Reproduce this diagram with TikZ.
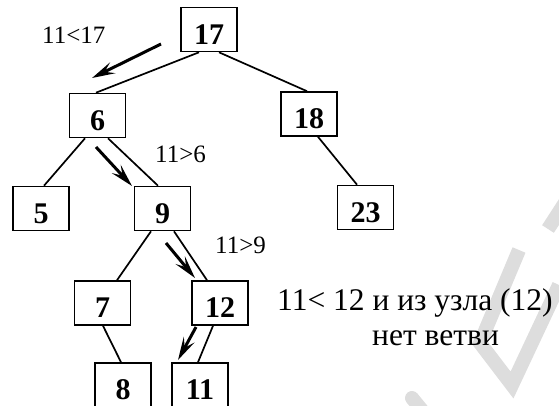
\documentclass[tikz,border=0pt]{standalone}
\usepackage{fontspec}
\setmainfont{Liberation Serif}
\usetikzlibrary{arrows.meta}
\definecolor{wmgray}{HTML}{DDDDDD}
\begin{document}
\begin{tikzpicture}[x=1pt,y=-1pt,
  keybox/.style={draw,line width=1.6pt,minimum width=56pt,minimum height=44pt,inner sep=0pt},
  keynum/.style={anchor=base,inner sep=0pt,text depth=0pt,font=\fontsize{30}{30}\selectfont\bfseries},
  edge/.style={line width=1.7pt},
  walk/.style={line width=3pt,-{Stealth[length=23pt,width=12pt,inset=9pt]}},
  cmp/.style={anchor=base west,inner sep=0pt,font=\fontsize{25}{25}\selectfont},
  note/.style={anchor=base west,inner sep=0pt,font=\fontsize{31.5}{31.5}\selectfont},
  wmstroke/.style={wmgray,line width=14pt}]
\useasboundingbox (0,0) rectangle (559,405);

% faint background lettering
\draw[wmstroke,line join=miter] (519,250) -- (480,343) -- (512,385) -- (559,285);
\draw[wmstroke] (548,229) -- (570,195);
\draw[wmstroke,line cap=round] (412,398) -- (430,420);

% tree nodes: frames and keys
\foreach \name/\px/\py/\key in {n17/209/29.5/17, n6/97.5/115.5/6, n18/309/114/18,
    n5/41/208.5/5, n9/162.5/208.5/9, n23/365.5/207.5/23, n7/102.5/303/7,
    n12/220/303/12, n8/123/385/8, n11/200/385/11}{
  \node[keybox] (\name) at (\px,\py) {};
  \node[keynum] (k\name) at ([yshift=-14.5pt]\name.center) {\key};
}

% tree edges
\draw[edge] ([xshift=-10pt]n17.south) -- ([xshift=-1.5pt]n6.north);
\draw[edge] ([xshift=10pt]n17.south) -- ([xshift=-2pt]n18.north);
\draw[edge] ([xshift=-12.5pt]n6.south) -- ([xshift=3pt]n5.north);
\draw[edge] ([xshift=10.5pt]n6.south) -- ([xshift=-4.5pt]n9.north);
\draw[edge] ([xshift=-11.5pt]n9.south) -- ([xshift=14.5pt]n7.north);
\draw[edge] ([xshift=11.5pt]n9.south) -- ([xshift=-13pt]n12.north);
\draw[edge] ([xshift=-7pt]n12.south) -- ([xshift=-2pt]n11.north);
\draw[edge] ([xshift=0.5pt]n7.south) -- ([xshift=-2pt]n8.north);
\draw[edge] ([xshift=9pt]n18.south) -- ([xshift=-8.5pt]n23.north);

% search path
\coordinate (s1) at (161,44);  \coordinate (e1) at (92,78);
\coordinate (s2) at (96,147);  \coordinate (e2) at (132,186);
\coordinate (s3) at (166,243); \coordinate (e3) at (195,278);
\coordinate (s4) at (196,327); \coordinate (e4) at (178,360);
\draw[walk] (s1) -- (e1);
\draw[walk] (s2) -- (e2);
\draw[walk] (s3) -- (e3);
\draw[walk] (s4) -- (e4);

% comparisons
\node[cmp] (c1) at (42,43) {11<17};
\node[cmp] (c2) at (155,162) {11>6};
\node[cmp] (c3) at (215,253) {11>9};
\node[note] (t1) at (277,310) {11< 12 и из узла (12)};
\node[note] (t2) at (372,345) {нет ветви};
\end{tikzpicture}
\end{document}
